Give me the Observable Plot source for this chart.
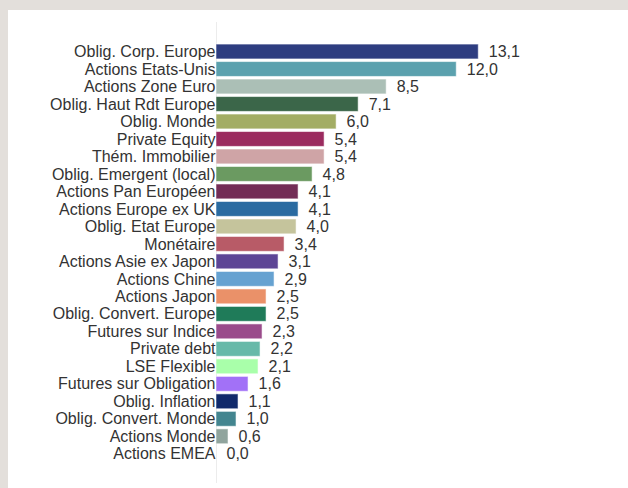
<!DOCTYPE html>
<html>
<head>
<meta charset="utf-8">
<script src="https://cdn.jsdelivr.net/npm/d3@7"></script>
<script src="https://cdn.jsdelivr.net/npm/@observablehq/plot@0.6"></script>
<style>
  html, body { margin: 0; padding: 0; }
  body { background: #e3dfdb; width: 628px; height: 488px; overflow: hidden; position: relative; }
  #panel { position: absolute; left: 8px; top: 10px; width: 620px; height: 478px; background: #ffffff; }
  svg { display: block; }
</style>
</head>
<body>
<div id="panel"></div>
<script>
const categories = [
  "Oblig. Corp. Europe", "Actions Etats-Unis", "Actions Zone Euro", "Oblig. Haut Rdt Europe",
  "Oblig. Monde", "Private Equity", "Thém. Immobilier", "Oblig. Emergent (local)",
  "Actions Pan Européen", "Actions Europe ex UK", "Oblig. Etat Europe", "Monétaire",
  "Actions Asie ex Japon", "Actions Chine", "Actions Japon", "Oblig. Convert. Europe",
  "Futures sur Indice", "Private debt", "LSE Flexible", "Futures sur Obligation",
  "Oblig. Inflation", "Oblig. Convert. Monde", "Actions Monde", "Actions EMEA"
];
const values = [13.1, 12.0, 8.5, 7.1, 6.0, 5.4, 5.4, 4.8, 4.1, 4.1, 4.0, 3.4, 3.1, 2.9, 2.5, 2.5, 2.3, 2.2, 2.1, 1.6, 1.1, 1.0, 0.6, 0.0];
const colors = [
  "#2e3d80", "#5ba1ae", "#abbfb6", "#3b6649", "#a3ad64", "#9b2b5f", "#cfa4a6", "#6b9a61",
  "#732d56", "#2a6ba1", "#c5c49c", "#b85b67", "#5d4595", "#66a2d1", "#ea9169", "#1f7b59",
  "#9a4b8b", "#67b9a9", "#a9ffaa", "#a271f7", "#112a6b", "#43858f", "#90a49d", "#cccccc"
];

const data = categories.map((c, i) => ({cat: c, val: values[i], col: colors[i]}));
const fmt = v => v.toFixed(1).replace(".", ",");

const chart = Plot.plot({
  width: 620,
  height: 478,
  marginLeft: 208,
  marginRight: 111.7,
  marginTop: 12,
  marginBottom: 5,
  style: {fontFamily: "'Liberation Sans', Arial, sans-serif", fontSize: "16px", color: "#333", background: "transparent"},
  x: {domain: [0, 15], axis: null},
  y: {domain: categories, padding: 0.15, round: false, insetTop: 19.45, insetBottom: 19.15, label: null, tickSize: 0, tickPadding: 1},
  color: {type: "identity"},
  marks: [
    Plot.ruleX([0], {stroke: "#ececec", strokeWidth: 1}),
    Plot.barX(data, {x: "val", y: "cat", fill: "col", stroke: "white", strokeOpacity: 0.55, strokeWidth: 1}),
    Plot.text(data, {x: "val", y: "cat", text: d => fmt(d.val), textAnchor: "start", dx: 10, fill: "#333", fontSize: 16}),
    Plot.axisY({tickSize: 0, tickPadding: 1, label: null, fontSize: 16, fill: "#333"})
  ]
});
document.getElementById("panel").appendChild(chart);
</script>
</body>
</html>
